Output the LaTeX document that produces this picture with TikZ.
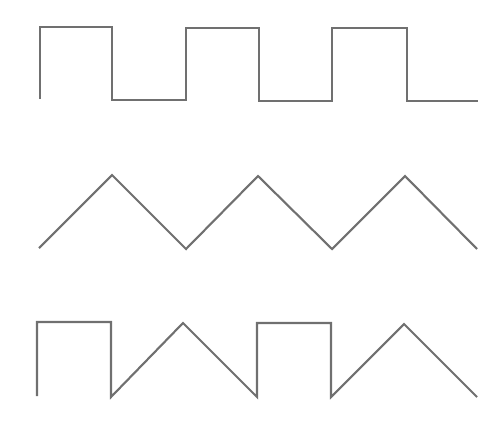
\documentclass[tikz,border=0pt]{standalone}
\usepackage{xcolor}
\usepackage{tikz}
\definecolor{waveGray}{RGB}{112, 112, 112}

\begin{document}
\begin{tikzpicture}[
  x=0.02cm, y=-0.02cm,
  wave/.style={draw=waveGray, line width=1.2pt, line join=miter}
]
  \useasboundingbox (0,0) rectangle (482,423);

  % square wave
  \draw[wave] (40,99) -- (40,27) -- (112,27) -- (112,100) -- (186,100)
              -- (186,28) -- (259,28) -- (259,101) -- (332,101)
              -- (332,28) -- (407,28) -- (407,101) -- (478,101);

  % triangle wave
  \draw[wave] (39,248) -- (112,175) -- (186,249) -- (258,176)
              -- (332,249) -- (405,176) -- (477,249);

  % mixed wave
  \draw[wave] (37,396) -- (37,322) -- (111,322) -- (111,397)
              -- (183,323) -- (257,397) -- (257,323) -- (331,323)
              -- (331,397) -- (404,324) -- (477,397);
\end{tikzpicture}
\end{document}
